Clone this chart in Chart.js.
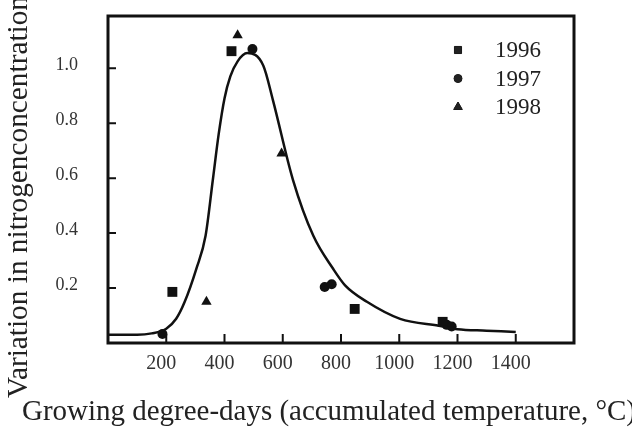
<!DOCTYPE html>
<html>
<head>
<meta charset="utf-8">
<script src="https://cdn.jsdelivr.net/npm/chart.js@4.4.0/dist/chart.umd.min.js"></script>
<style>
	html, body { margin: 0; padding: 0; background: #fff; }
	#wrap { width: 632px; height: 435px; }
</style>
</head>
<body>
<div id="wrap"><canvas id="nitrogenChart"></canvas></div>
<script>
// fitted curve
var curveX = [0, 100, 150, 200, 234, 263, 303, 335, 360, 380, 400, 420, 445, 478, 533, 566, 635, 705, 773, 814, 889, 1003, 1141, 1200, 1300, 1400];
var curveY = [0.03, 0.03, 0.035, 0.052, 0.088, 0.149, 0.269, 0.39, 0.594, 0.76, 0.89, 0.97, 1.025, 1.055, 1.01, 0.885, 0.594, 0.39, 0.27, 0.21, 0.15, 0.088, 0.062, 0.05, 0.045, 0.04];

// observations per year
var x1996 = [424, 221, 847, 1149];
var y1996 = [1.062, 0.186, 0.124, 0.077];
var x1997 = [496, 187, 744, 768, 1163, 1180];
var y1997 = [1.07, 0.033, 0.204, 0.214, 0.066, 0.06];
var x1998 = [445, 596, 338];
var y1998 = [1.12, 0.69, 0.15];

var years = ['1996', '1997', '1998'];
var xTicks = [200, 400, 600, 800, 1000, 1200, 1400];
var yTicks = [0.2, 0.4, 0.6, 0.8, 1.0];
var xTitle = 'Growing degree-days (accumulated temperature, \u00B0C)';
var yTitle = 'Variation in nitrogenconcentration';

function toPoints(xs, ys) {
	let pts = [];
	for (let i = 0; i < xs.length; i++) {
		pts.push({ x: xs[i], y: ys[i] });
	}
	return pts;
}

const serif = "'Liberation Serif', 'DejaVu Serif', serif";

// draws text stretched to a given length (the original lettering is wide)
function wideText(ctx, text, len) {
	const w = ctx.measureText(text).width;
	ctx.save();
	ctx.scale(len / w, 1);
	ctx.fillText(text, 0, 0);
	ctx.restore();
}

// frame, inward ticks, axis titles and legend
const framePlugin = {
	id: 'frame',
	beforeDatasetsDraw(chart) {
		const ctx = chart.ctx;
		const a = chart.chartArea;
		const xs = chart.scales.x;
		const ys = chart.scales.y;
		ctx.save();
		ctx.strokeStyle = '#111';
		ctx.lineWidth = 3;
		ctx.strokeRect(a.left, a.top, a.right - a.left, a.bottom - a.top);
		ctx.lineWidth = 2;
		ctx.beginPath();
		xTicks.forEach(function(v) {
			const px = xs.getPixelForValue(v);
			ctx.moveTo(px, a.bottom);
			ctx.lineTo(px, a.bottom - 9);
		});
		yTicks.forEach(function(v) {
			const py = ys.getPixelForValue(v);
			ctx.moveTo(a.left, py);
			ctx.lineTo(a.left + 8, py);
		});
		ctx.stroke();
		ctx.restore();
	},
	afterDraw(chart) {
		const ctx = chart.ctx;
		const styles = ['rect', 'circle', 'triangle'];
		const radii = [5, 4, 5];
		ctx.save();
		ctx.font = '23px ' + serif;
		ctx.fillStyle = '#222';
		ctx.textBaseline = 'middle';
		for (let i = 0; i < years.length; i++) {
			const yy = 50 + i * 28.5;
			Chart.helpers.drawPoint(ctx, {
				pointStyle: styles[i], radius: radii[i], borderWidth: 1
			}, 458, yy);
			ctx.fill();
			ctx.fillText(years[i], 495, yy + 1);
		}

		// axis titles
		ctx.textBaseline = 'alphabetic';
		ctx.textAlign = 'left';
		ctx.font = '29px ' + serif;
		ctx.save();
		ctx.translate(22, 420);
		wideText(ctx, xTitle, 614);
		ctx.restore();

		ctx.save();
		ctx.translate(27, 398);
		ctx.rotate(-Math.PI / 2);
		wideText(ctx, yTitle, 402);
		ctx.restore();
		ctx.restore();
	}
};

const ctx = document.getElementById('nitrogenChart').getContext('2d');
ctx.fillStyle = '#111';
ctx.strokeStyle = '#111';

const myChart = new Chart(ctx, {
	type: 'scatter',
	data: {
		datasets: [{
			label: 'fit',
			data: toPoints(curveX, curveY),
			showLine: true,
			pointRadius: 0,
			borderColor: '#111',
			borderWidth: 2.5,
			cubicInterpolationMode: 'monotone',
			clip: false
		}, {
			label: years[0],
			data: toPoints(x1996, y1996),
			pointStyle: 'rect',
			pointRadius: 7,
			backgroundColor: '#111',
			borderColor: '#111',
			borderWidth: 0,
			clip: false
		}, {
			label: years[1],
			data: toPoints(x1997, y1997),
			pointStyle: 'circle',
			pointRadius: 5,
			backgroundColor: '#111',
			borderColor: '#111',
			borderWidth: 0,
			clip: false
		}, {
			label: years[2],
			data: toPoints(x1998, y1998),
			pointStyle: 'triangle',
			pointRadius: 6,
			backgroundColor: '#111',
			borderColor: '#111',
			borderWidth: 0,
			clip: false
		}]
	},
	options: {
		responsive: true,
		maintainAspectRatio: false,
		animation: false,
		layout: {
			padding: { left: 0, right: 58, top: 16, bottom: 0 }
		},
		plugins: {
			legend: { display: false },
			tooltip: { enabled: false }
		},
		scales: {
			x: {
				type: 'linear',
				min: 0,
				max: 1600,
				grid: { display: false, drawTicks: false },
				border: { display: false },
				afterFit: function(scale) {
					scale.height = 92;
					scale.paddingLeft = 0;
					scale.paddingRight = 0;
				},
				ticks: {
					stepSize: 200,
					padding: 9,
					labelOffset: -5,
					maxRotation: 0,
					color: '#333',
					font: { family: serif, size: 20 },
					callback: function(v) {
						return xTicks.indexOf(v) >= 0 ? String(v) : '';
					}
				}
			},
			y: {
				type: 'linear',
				min: 0,
				max: 1.19,
				grid: { display: false, drawTicks: false },
				border: { display: false },
				afterFit: function(scale) {
					scale.width = 108;
					scale.paddingTop = 0;
					scale.paddingBottom = 0;
				},
				ticks: {
					stepSize: 0.2,
					padding: 30,
					labelOffset: -3,
					color: '#333',
					font: { family: serif, size: 18 },
					callback: function(v) {
						const r = Math.round(v * 10) / 10;
						return yTicks.indexOf(r) >= 0 ? r.toFixed(1) : '';
					}
				}
			}
		}
	},
	plugins: [framePlugin]
});
</script>
</body>
</html>
